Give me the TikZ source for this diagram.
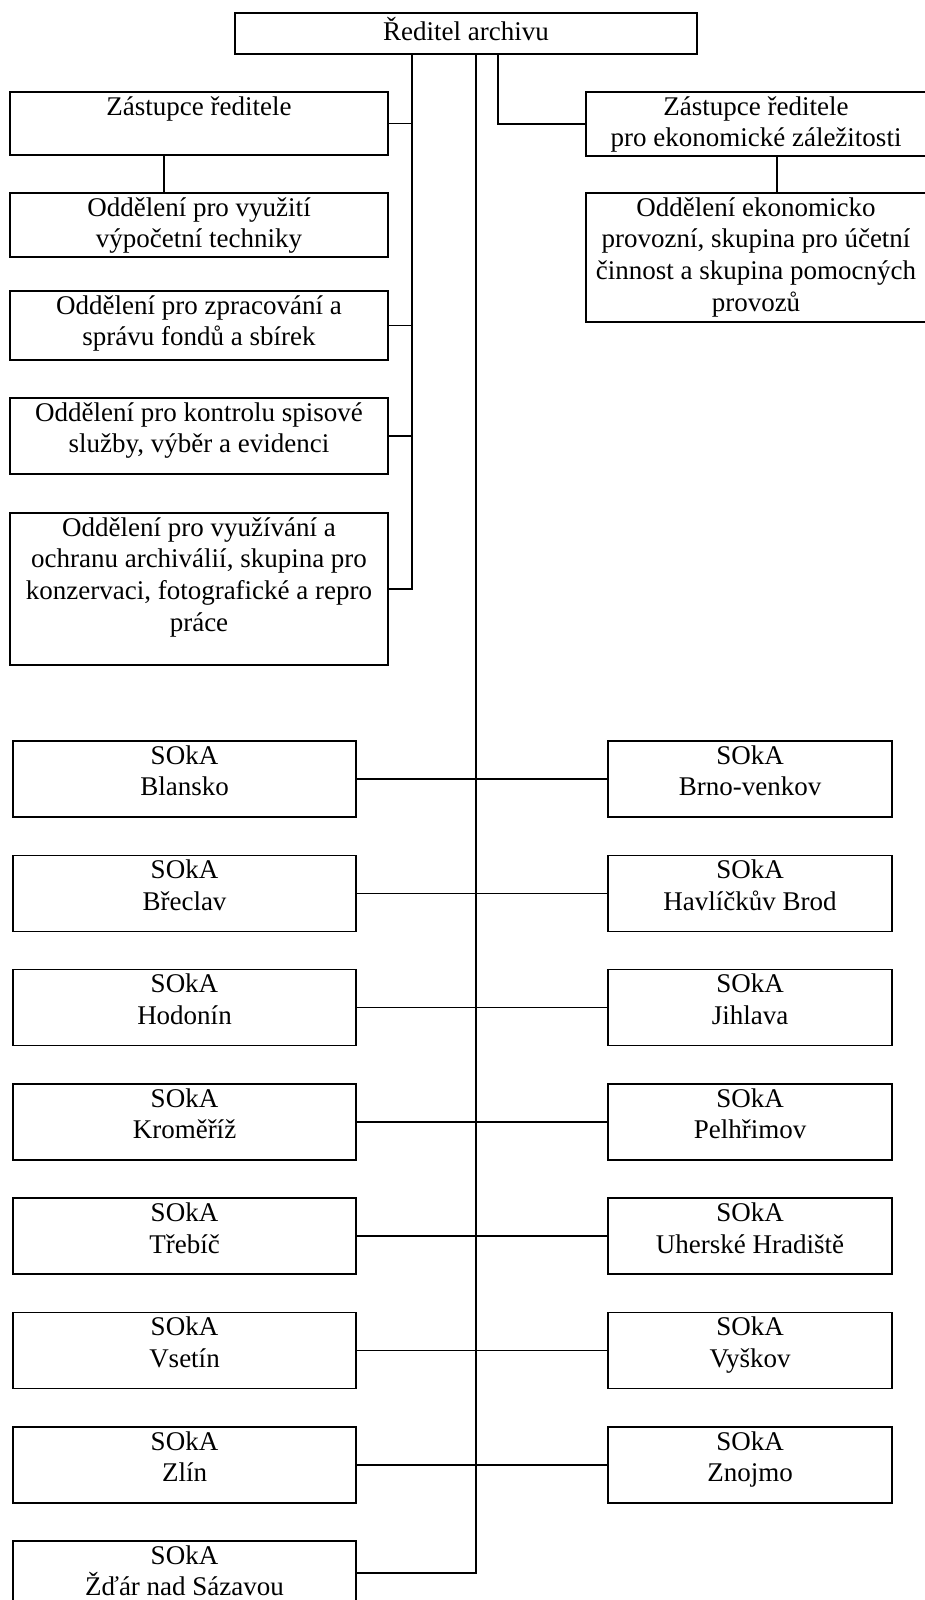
\documentclass[tikz,border=0pt]{standalone}
\usepackage{fontspec}
\setmainfont{Liberation Serif}
\usetikzlibrary{positioning}

\tikzset{
  box/.style={draw, line width=0.8pt, inner sep=0pt},
  lbl/.style={anchor=north, align=center, inner sep=0pt, yshift=-2.5pt,
    font=\fontsize{13.5}{15.8}\selectfont},
  rlbl/.style={lbl, xshift=-10.5pt},
  link/.style={line width=0.8pt},
}

\begin{document}
\begin{tikzpicture}[x=0.5pt,y=-0.5pt]

    \useasboundingbox (0,0) rectangle (925,1600);

    % Nodes

    \node[box, minimum width=231pt, minimum height=20.5pt,
      label={[lbl]north:{Ředitel archivu}}]                   (dir)   at (466,33.5) {}; %

    \node[box, minimum width=189pt, minimum height=31.5pt,
      label={[lbl]north:{Zástupce ředitele}}]                 (zast)  at (199,123.5) {}; %
    \node[box, minimum width=189pt, minimum height=32pt,
      label={[lbl]north:{Oddělení pro využití\\výpočetní techniky}}] (vt) at (199,225) {}; %
    \node[box, minimum width=189pt, minimum height=34.5pt,
      label={[lbl]north:{Oddělení pro zpracování a\\správu fondů a sbírek}}] (fondy) at (199,325.5) {}; %
    \node[box, minimum width=189pt, minimum height=38pt,
      label={[lbl]north:{Oddělení pro kontrolu spisové\\služby, výběr a evidenci}}] (spis) at (199,436) {}; %
    \node[box, minimum width=189pt, minimum height=76pt,
      label={[lbl]north:{Oddělení pro využívání a\\ochranu archiválií, skupina pro\\konzervaci, fotografické a repro\\práce}}] (ochr) at (199,589) {}; %

    \node[box, minimum width=191pt, minimum height=32pt,
      label={[rlbl]north:{Zástupce ředitele\\pro ekonomické záležitosti}}] (ezast) at (777,124) {}; %
    \node[box, minimum width=191pt, minimum height=64.5pt,
      label={[rlbl]north:{Oddělení ekonomicko\\provozní, skupina pro účetní\\činnost a skupina pomocných\\provozů}}] (eodd) at (777,257.5) {}; %

    % SOkA nodes

    \node[box, minimum width=171.5pt, minimum height=38pt, label={[lbl]north:{SOkA\\Blansko}}]          (bla) at (184.5,779) {}; %
    \node[box, minimum width=142pt,   minimum height=38pt, label={[lbl]north:{SOkA\\Brno-venkov}}]      (brv) at (750,779) {}; %
    \node[box, minimum width=171.5pt, minimum height=38pt, label={[lbl]north:{SOkA\\Břeclav}}]          (bre) at (184.5,893.3) {}; %
    \node[box, minimum width=142pt,   minimum height=38pt, label={[lbl]north:{SOkA\\Havlíčkův Brod}}]   (hav) at (750,893.3) {}; %
    \node[box, minimum width=171.5pt, minimum height=38pt, label={[lbl]north:{SOkA\\Hodonín}}]          (hod) at (184.5,1007.6) {}; %
    \node[box, minimum width=142pt,   minimum height=38pt, label={[lbl]north:{SOkA\\Jihlava}}]          (jih) at (750,1007.6) {}; %
    \node[box, minimum width=171.5pt, minimum height=38pt, label={[lbl]north:{SOkA\\Kroměříž}}]         (kro) at (184.5,1121.9) {}; %
    \node[box, minimum width=142pt,   minimum height=38pt, label={[lbl]north:{SOkA\\Pelhřimov}}]        (pel) at (750,1121.9) {}; %
    \node[box, minimum width=171.5pt, minimum height=38pt, label={[lbl]north:{SOkA\\Třebíč}}]           (tre) at (184.5,1236.2) {}; %
    \node[box, minimum width=142pt,   minimum height=38pt, label={[lbl]north:{SOkA\\Uherské Hradiště}}] (uhr) at (750,1236.2) {}; %
    \node[box, minimum width=171.5pt, minimum height=38pt, label={[lbl]north:{SOkA\\Vsetín}}]           (vse) at (184.5,1350.5) {}; %
    \node[box, minimum width=142pt,   minimum height=38pt, label={[lbl]north:{SOkA\\Vyškov}}]           (vys) at (750,1350.5) {}; %
    \node[box, minimum width=171.5pt, minimum height=38pt, label={[lbl]north:{SOkA\\Zlín}}]             (zli) at (184.5,1464.8) {}; %
    \node[box, minimum width=142pt,   minimum height=38pt, label={[lbl]north:{SOkA\\Znojmo}}]           (zno) at (750,1464.8) {}; %
    \node[box, minimum width=171.5pt, minimum height=32pt, label={[lbl]north:{SOkA\\Žďár nad Sázavou}}] (zda) at (184.5,1573) {}; %

    % Branch points under the director

    \coordinate (lb) at (412,54); %
    \coordinate (tr) at (476,54); %
    \coordinate (rb) at (498,54); %

    % Edges

    \draw[link] (lb) |- (ochr.east); %
    \draw[link] (zast.east)  -- (zast.east -| lb); %
    \draw[link] (fondy.east) -- (fondy.east -| lb); %
    \draw[link] (spis.east)  -- (spis.east -| lb); %
    \draw[link] ([xshift=-17.5pt]zast.south) -- ([xshift=-17.5pt]zast.south |- vt.north); %

    \draw[link] (rb) |- (ezast.west); %
    \draw[link] (ezast.south) -- (eodd.north); %

    \draw[link] (tr) |- (zda.east); %
    \draw[link] (bla.east) -- (brv.west); %
    \draw[link] (bre.east) -- (hav.west); %
    \draw[link] (hod.east) -- (jih.west); %
    \draw[link] (kro.east) -- (pel.west); %
    \draw[link] (tre.east) -- (uhr.west); %
    \draw[link] (vse.east) -- (vys.west); %
    \draw[link] (zli.east) -- (zno.west); %

\end{tikzpicture}
\end{document}
